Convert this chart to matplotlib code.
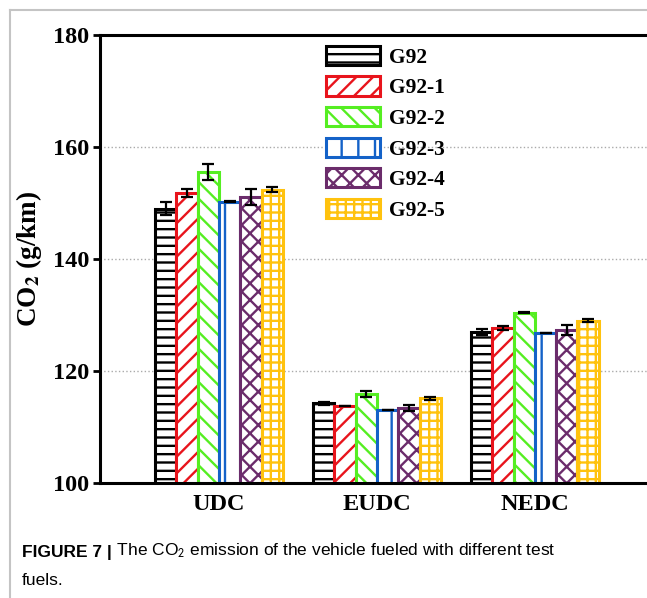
import numpy as np
import matplotlib
matplotlib.use("Agg")
import matplotlib.pyplot as plt
from matplotlib.lines import Line2D

# data
cycles = ["UDC", "EUDC", "NEDC"]
fuels = ["G92", "G92-1", "G92-2", "G92-3", "G92-4", "G92-5"]
g92 = [149.0, 114.2, 127.0]
g92_1 = [151.8, 113.75, 127.7]
g92_2 = [155.5, 115.9, 130.4]
g92_3 = [150.2, 113.0, 126.8]
g92_4 = [151.1, 113.4, 127.3]
g92_5 = [152.4, 115.1, 129.0]
err_g92 = [1.1, 0.2, 0.5]
err_g92_1 = [0.7, 0.05, 0.3]
err_g92_2 = [1.4, 0.5, 0.1]
err_g92_3 = [0.1, 0.05, 0.05]
err_g92_4 = [1.45, 0.5, 0.9]
err_g92_5 = [0.4, 0.3, 0.3]

values = [g92, g92_1, g92_2, g92_3, g92_4, g92_5]
errors = [err_g92, err_g92_1, err_g92_2, err_g92_3, err_g92_4, err_g92_5]
colors = ["#000000", "#E8141C", "#55EE22", "#1462C8", "#6B2C6B", "#FFC20E"]
hatches = ["--", "//", "\\\\", "|", "xx", "++"]

plt.rcParams["hatch.linewidth"] = 1.7
plt.rcParams["mathtext.fontset"] = "stix"

fig = plt.figure(figsize=(6.47, 5.98), dpi=100)
ax = fig.add_axes([100 / 647, 1 - 483 / 598, 1 - 100 / 647, 448 / 598])

x = np.arange(len(cycles))
w = 0.135
for i, (vals, errs) in enumerate(zip(values, errors)):
    pos = x + (i - 2.5) * w
    ax.bar(pos, vals, w, color="white", edgecolor=colors[i], hatch=hatches[i],
           linewidth=2.2, label=fuels[i], zorder=2)
    ax.errorbar(pos, vals, yerr=errs, fmt="none", ecolor="black",
                elinewidth=1.6, capsize=4.5, capthick=1.6, zorder=3)

serif = "Liberation Serif"
ax.set_ylim(100, 180)
ax.set_xlim(-0.753, 2.71)
ax.set_yticks([100, 120, 140, 160, 180])
ax.set_xticks(x)
ax.set_xticklabels(cycles)
ax.yaxis.grid(True, linestyle=":", color="#aaaaaa", linewidth=1)
ax.set_axisbelow(True)
for lab in ax.get_xticklabels() + ax.get_yticklabels():
    lab.set_fontfamily(serif)
    lab.set_fontweight("bold")
    lab.set_fontsize(17.5)
ax.tick_params(axis="y", direction="out", length=5, width=2, pad=3)
ax.tick_params(axis="x", length=0, pad=8)
for s in ["left", "bottom", "top"]:
    ax.spines[s].set_linewidth(2.2)
ax.spines["right"].set_visible(False)
ax.set_ylabel(r"CO$_\mathbf{2}$ (g/km)", fontfamily=serif, fontweight="bold",
              fontsize=19.5, labelpad=6)

leg = ax.legend(loc="upper left", bbox_to_anchor=(0.413, 0.976), frameon=False,
                prop={"family": serif, "weight": "bold", "size": 15.5},
                handlelength=2.5, handleheight=1.0, labelspacing=0.4,
                handletextpad=0.45, borderaxespad=0, borderpad=0)

# frame lines of the page
fig.add_artist(Line2D([10 / 647, 10 / 647], [0, 1 - 10 / 598], color="#c4c4c4", lw=1.5))
fig.add_artist(Line2D([10 / 647, 1], [1 - 10 / 598, 1 - 10 / 598], color="#c4c4c4", lw=1.5))

# caption
t1 = fig.text(22 / 647, 1 - 557 / 598, "FIGURE 7 |", fontfamily="Liberation Sans",
              fontweight="bold", fontsize=12.5, va="baseline")
ax.annotate(r" The CO$_\mathsf{2}$ emission of the vehicle fueled with different test",
            xy=(1, 0), xycoords=t1, va="bottom", ha="left",
            fontfamily="Liberation Sans", fontsize=12.5, annotation_clip=False)
fig.text(22 / 647, 1 - 585 / 598, "fuels.", fontfamily="Liberation Sans",
         fontsize=12.5, va="baseline")

fig.savefig("out.png", dpi=100)
